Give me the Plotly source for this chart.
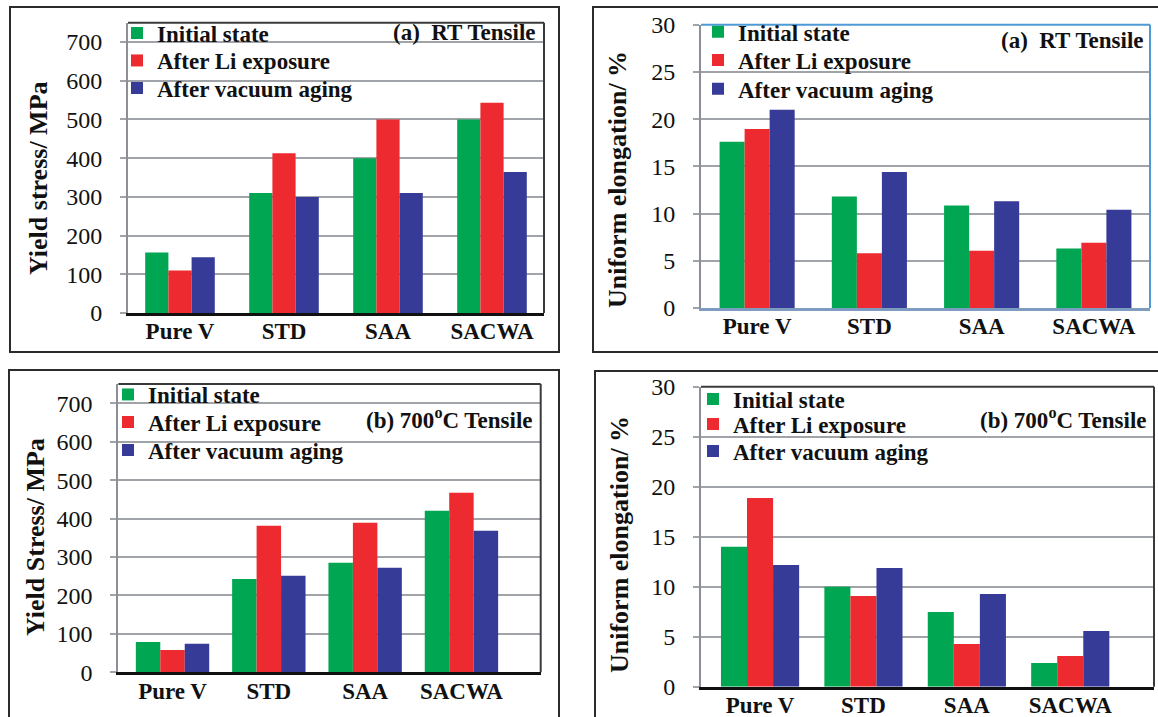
import plotly.graph_objects as go

W, H = 1158, 717

categories = ["Pure V", "STD", "SAA", "SACWA"]
series_names = ["Initial state", "After Li exposure", "After vacuum aging"]

# (a) RT yield stress (MPa)
rt_ys_initial = [156, 310, 400, 500]
rt_ys_li = [110, 413, 500, 543]
rt_ys_vac = [144, 300, 310, 364]

# (a) RT uniform elongation (%)
rt_el_initial = [17.6, 11.8, 10.85, 6.3]
rt_el_li = [18.95, 5.8, 6.05, 6.9]
rt_el_vac = [21.0, 14.4, 11.3, 10.4]

# (b) 700C yield stress (MPa)
ht_ys_initial = [79, 243, 285, 420]
ht_ys_li = [58, 381, 389, 467]
ht_ys_vac = [74, 251, 272, 368]

# (b) 700C uniform elongation (%)
ht_el_initial = [14.0, 10.0, 7.47, 2.37]
ht_el_li = [18.87, 9.07, 4.27, 3.07]
ht_el_vac = [12.17, 11.87, 9.27, 5.57]

ys_ticks = [0, 100, 200, 300, 400, 500, 600, 700]
el_ticks = [0, 5, 10, 15, 20, 25, 30]

colors = ["#00A651", "#ED2A2F", "#353B96"]
FONT = "Liberation Serif"


def px_x(p):
    return p / W


def px_y(p):
    return 1 - p / H


panels = [
    dict(series=[rt_ys_initial, rt_ys_li, rt_ys_vac], box=(128, 544, 22.7, 313),
         xr=[-0.5, 3.5], yr=[0, 750], ticks=ys_ticks, w=0.223,
         frame="#3a3a3a", left="#8c9096", bottom="#111111",
         ytitle="Yield stress/ MPa", ytitle_xy=(38, 178),
         title="(a)  RT Tensile", title_xy=(538, 33),
         legend_x=117, legend_rows=(33, 60.5, 88)),
    dict(series=[rt_el_initial, rt_el_li, rt_el_vac], box=(701, 1150, 24.7, 308),
         xr=[-0.5, 3.5], yr=[0, 30], ticks=el_ticks, w=0.223,
         frame="#4E9AD6", left="#8c9096", bottom="#7d9cc0",
         ytitle="Uniform elongation/ %", ytitle_xy=(617, 180),
         title="(a)  RT Tensile", title_xy=(1146, 40),
         legend_x=698, legend_rows=(31.7, 60, 88.7)),
    dict(series=[ht_ys_initial, ht_ys_li, ht_ys_vac], box=(118.3, 540.7, 384, 672.3),
         xr=[-0.563, 3.823], yr=[0, 750], ticks=ys_ticks, w=0.254,
         frame="#3a3a3a", left="#8c9096", bottom="#111111",
         ytitle="Yield Stress/ MPa", ytitle_xy=(35, 537),
         title="(b) 700<sup>o</sup>C Tensile", title_xy=(535, 418),
         legend_x=108, legend_rows=(394.5, 422, 450)),
    dict(series=[ht_el_initial, ht_el_li, ht_el_vac], box=(701, 1154, 386.7, 686.7),
         xr=[-0.571, 3.81], yr=[0, 30], ticks=el_ticks, w=0.252,
         frame="#3a3a3a", left="#8c9096", bottom="#111111",
         ytitle="Uniform elongation/ %", ytitle_xy=(619, 545),
         title="(b) 700<sup>o</sup>C Tensile", title_xy=(1149, 418),
         legend_x=693, legend_rows=(399, 424, 451)),
]

fig = go.Figure()
layout = dict(
    width=W, height=H, margin=dict(l=0, r=0, t=0, b=0, autoexpand=False),
    paper_bgcolor="white", plot_bgcolor="white",
    barmode="overlay", showlegend=True,
    font=dict(family=FONT, color="#111111"),
)
annotations = []
shapes = []

# outer panel frames
for (x0, x1, y0, y1) in [(10, 559, 7, 352), (593, 1170, 7, 352),
                         (9, 559, 370, 730), (595, 1170, 371, 730)]:
    shapes.append(dict(type="rect", xref="paper", yref="paper",
                       x0=px_x(x0), x1=px_x(x1), y0=px_y(y1), y1=px_y(y0),
                       line=dict(color="#2b2b2b", width=2), layer="below"))

legend_idx = 0
for i, p in enumerate(panels):
    n = "" if i == 0 else str(i + 1)
    xa, ya = "x" + n, "y" + n
    l, r, t, b = p["box"]
    w = p["w"]
    for k, (vals, name) in enumerate(zip(p["series"], series_names)):
        legend_idx += 1
        lg = "legend" if legend_idx == 1 else "legend" + str(legend_idx)
        fig.add_trace(go.Bar(
            x=categories, y=vals, name=name, xaxis=xa, yaxis=ya,
            width=w, offset=-1.5 * w + k * w,
            marker=dict(color=colors[k], line=dict(width=0)),
            legend=lg, showlegend=True,
        ))
        layout[lg] = dict(
            x=px_x(p["legend_x"]), y=px_y(p["legend_rows"][k]),
            xanchor="left", yanchor="middle",
            bgcolor="rgba(0,0,0,0)", borderwidth=0,
            font=dict(family=FONT, size=23, color="#111111", weight="bold"),
        )
    layout["xaxis" + n] = dict(
        domain=[px_x(l), px_x(r)], anchor=ya, type="category",
        range=p["xr"], showgrid=False, ticks="", automargin=False,
        showline=True, linecolor=p["bottom"], linewidth=2.5,
        tickfont=dict(family=FONT, size=23, color="#111111", weight="bold"),
        ticklabelstandoff=-4, zeroline=False,
    )
    layout["yaxis" + n] = dict(
        domain=[px_y(b), px_y(t)], anchor=xa, range=p["yr"], automargin=False,
        tickvals=p["ticks"], showgrid=True, gridcolor="#A0A4A9", gridwidth=2,
        ticks="outside", ticklen=6, tickwidth=2, tickcolor="#A0A4A9",
        showline=True, linecolor=p["left"], linewidth=2, zeroline=False,
        tickfont=dict(family=FONT, size=24, color="#111111"),
        ticklabelstandoff=13,
    )
    # plot-area frame: top and right edges
    shapes.append(dict(type="line", xref=xa + " domain", yref=ya + " domain",
                       x0=0, x1=1, y0=1, y1=1,
                       line=dict(color=p["frame"], width=2), layer="above"))
    shapes.append(dict(type="line", xref=xa + " domain", yref=ya + " domain",
                       x0=1, x1=1, y0=0, y1=1,
                       line=dict(color=p["frame"], width=2), layer="above"))
    tx, ty = p["title_xy"]
    annotations.append(dict(
        text=p["title"], xref="paper", yref="paper", x=px_x(tx), y=px_y(ty),
        xanchor="right", yanchor="middle", showarrow=False,
        font=dict(family=FONT, size=23, color="#111111", weight="bold"),
    ))
    yx, yy = p["ytitle_xy"]
    annotations.append(dict(
        text=p["ytitle"], xref="paper", yref="paper", x=px_x(yx), y=px_y(yy),
        xanchor="center", yanchor="middle", textangle=-90, showarrow=False,
        font=dict(family=FONT, size=26, color="#111111", weight="bold"),
    ))

layout["annotations"] = annotations
layout["shapes"] = shapes
fig.update_layout(**layout)
fig.write_html("out.html", config={"displayModeBar": False},
               post_script="document.body.style.margin='0';")
